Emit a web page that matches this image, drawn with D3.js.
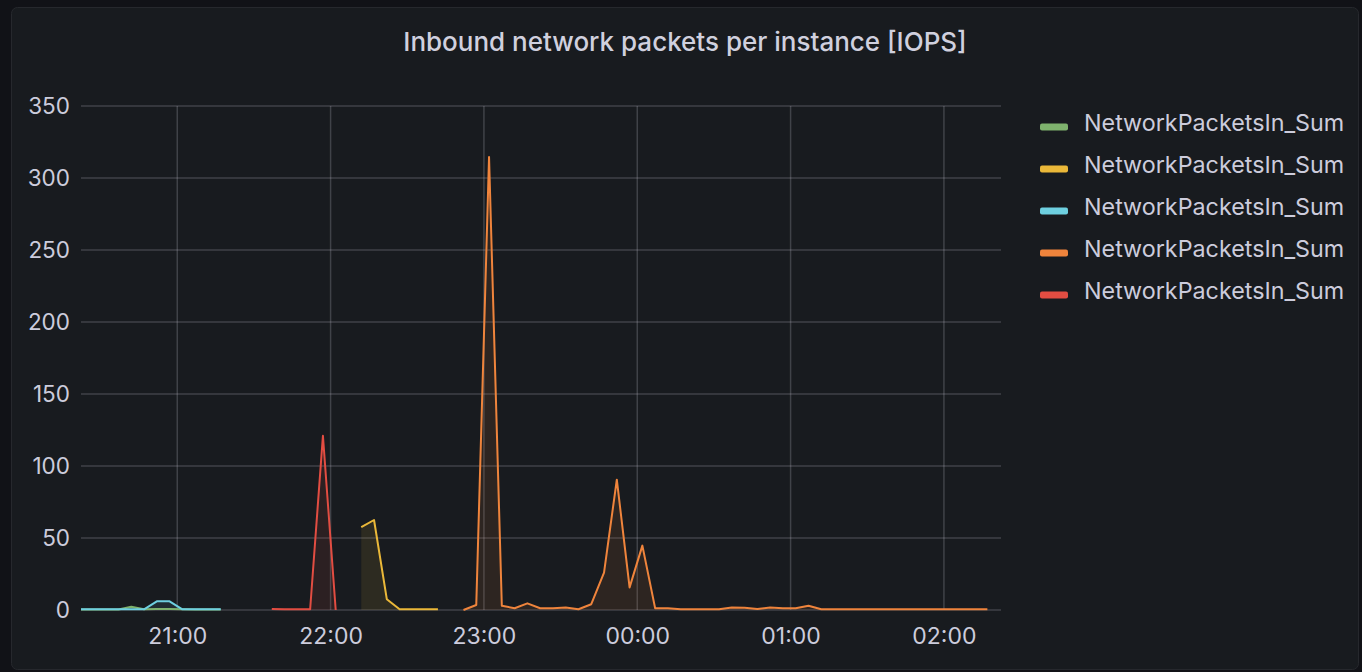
<!DOCTYPE html>
<html>
<head>
<meta charset="utf-8">
<script src="https://cdn.jsdelivr.net/npm/d3@7"></script>
<style>
  html, body { margin: 0; padding: 0; background: #111217; }
  svg { display: block; }
  text { font-family: Inter, "Noto Sans", sans-serif; }
</style>
</head>
<body>
<svg id="chart" width="1362" height="672"></svg>
<script>
// ---------------- DATA ----------------
const title = "Inbound network packets per instance [IOPS]";
const seriesNames = ["NetworkPacketsIn_Sum", "NetworkPacketsIn_Sum", "NetworkPacketsIn_Sum", "NetworkPacketsIn_Sum", "NetworkPacketsIn_Sum"];
// samples every 5 minutes; start times (HH:MM, evening of day 1, after midnight day 2)
const greenStart = "20:22";
const greenValues = [0.3, 0.3, 0.3, 0.4, 2.3, 0.5, 0.7, 0.7, 0.6, 0.3, 0.3, 0.3];
const yellowStart = "22:12";
const yellowValues = [57.5, 62.5, 7.5, 0.5, 0.5, 0.5, 0.5];
const cyanStart = "20:22";
const cyanValues = [0.5, 0.5, 0.5, 0.5, 0.5, 0.5, 6, 6, 0.5, 0.5, 0.5, 0.5];
const orangeStart = "22:52";
const orangeValues = [0, 3.5, 314.5, 3, 1.2, 4.6, 1.2, 1.2, 1.8, 0.5, 4, 26, 90.5, 15.7, 44.7,
  1.2, 1.2, 0.5, 0.5, 0.5, 0.5, 1.8, 1.5, 0.7, 1.8, 1.2, 1.2, 3, 0.5,
  0.5, 0.5, 0.5, 0.5, 0.5, 0.5, 0.5, 0.5, 0.5, 0.5, 0.5, 0.5, 0.5];
const redStart = "21:37";
const redValues = [0.7, 0.6, 0.5, 0.5, 121, 0];
const yTicks = [0, 50, 100, 150, 200, 250, 300, 350];
const xTickLabels = ["21:00", "22:00", "23:00", "00:00", "01:00", "02:00"];
const xDomainLabels = ["20:22:20", "02:22:20"];

// ---------------- HELPERS ----------------
function toDate(hm) {
  const p = hm.split(":").map(Number);
  const day = p[0] >= 12 ? 1 : 2;
  return new Date(2024, 0, day, p[0], p[1], p[2] || 0);
}
function build(start, values) {
  const t0 = toDate(start).getTime();
  return values.map((v, i) => ({ t: new Date(t0 + i * 5 * 60000), v }));
}
const series = [
  { name: seriesNames[0], color: "#7EB26D", data: build(greenStart, greenValues) },
  { name: seriesNames[1], color: "#EAB839", data: build(yellowStart, yellowValues) },
  { name: seriesNames[2], color: "#6ED0E0", data: build(cyanStart, cyanValues) },
  { name: seriesNames[3], color: "#EF843C", data: build(orangeStart, orangeValues) },
  { name: seriesNames[4], color: "#E24D42", data: build(redStart, redValues) }
];

// ---------------- LAYOUT ----------------
const svg = d3.select("#chart");
const W = 1362, H = 672;
const plot = { left: 81, right: 1001, top: 106, bottom: 610 };

svg.append("rect").attr("width", W).attr("height", H).attr("fill", "#111217");
svg.append("rect")
  .attr("x", 11.5).attr("y", 7.5).attr("width", 1347).attr("height", 662)
  .attr("rx", 6).attr("fill", "#181b1f")
  .attr("stroke", "#26282d").attr("stroke-width", 1);

svg.append("text")
  .attr("x", 685).attr("y", 41)
  .attr("text-anchor", "middle").attr("dominant-baseline", "central")
  .attr("font-size", 26).attr("font-weight", 500)
  .attr("fill", "#d0d0de")
  .text(title);

const x = d3.scaleTime()
  .domain(xDomainLabels.map(toDate))
  .range([plot.left, plot.right]);
const y = d3.scaleLinear().domain([0, 350]).range([plot.bottom, plot.top]);

// grid
const gridColor = "rgba(204,204,220,0.22)";
const xTicks = xTickLabels.map(toDate);
const gGrid = svg.append("g");
gGrid.selectAll("line.h").data(yTicks).join("line")
  .attr("x1", plot.left).attr("x2", plot.right)
  .attr("y1", d => y(d)).attr("y2", d => y(d))
  .attr("stroke", gridColor).attr("stroke-width", 1.5);
gGrid.selectAll("line.v").data(xTicks).join("line")
  .attr("x1", d => x(d)).attr("x2", d => x(d))
  .attr("y1", plot.top).attr("y2", plot.bottom)
  .attr("stroke", gridColor).attr("stroke-width", 1.5);

// axes
const yAxis = d3.axisLeft(y).tickValues(yTicks).tickSize(0).tickPadding(11);
const gy = svg.append("g").attr("transform", `translate(${plot.left},0)`).call(yAxis);
gy.select(".domain").remove();
gy.selectAll("text").attr("font-size", 22.5).attr("fill", "#ccccdc")
  .attr("font-family", "Inter, 'Noto Sans', sans-serif");

const xAxis = d3.axisBottom(x).tickValues(xTicks).tickFormat(d3.timeFormat("%H:%M")).tickSize(0).tickPadding(18);
const gx = svg.append("g").attr("transform", `translate(0,${plot.bottom})`).call(xAxis);
gx.select(".domain").remove();
gx.selectAll("text").attr("font-size", 23).attr("fill", "#ccccdc")
  .attr("font-family", "Inter, 'Noto Sans', sans-serif");

// clip
svg.append("clipPath").attr("id", "clip").append("rect")
  .attr("x", plot.left).attr("y", plot.top - 10)
  .attr("width", plot.right - plot.left).attr("height", plot.bottom - plot.top + 12);

const area = d3.area().x(d => x(d.t)).y0(y(0)).y1(d => y(d.v));
const line = d3.line().x(d => x(d.t)).y(d => y(d.v));
const gS = svg.append("g").attr("clip-path", "url(#clip)");
series.forEach(s => {
  gS.append("path").datum(s.data).attr("d", area)
    .attr("fill", s.color).attr("fill-opacity", 0.1);
});
series.forEach(s => {
  gS.append("path").datum(s.data).attr("d", line)
    .attr("fill", "none").attr("stroke", s.color).attr("stroke-width", 2)
    .attr("stroke-linejoin", "round");
});

// legend
const gL = svg.append("g").attr("transform", "translate(1040,0)");
series.forEach((s, i) => {
  const cy = 127 + i * 42;
  gL.append("rect").attr("x", 0).attr("y", cy - 3.5).attr("width", 28).attr("height", 7)
    .attr("rx", 2).attr("fill", s.color);
  gL.append("text").attr("x", 44).attr("y", cy - 5)
    .attr("dominant-baseline", "central")
    .attr("font-size", 23.3).attr("fill", "#ccccdc")
    .text(s.name);
});
</script>
</body>
</html>
